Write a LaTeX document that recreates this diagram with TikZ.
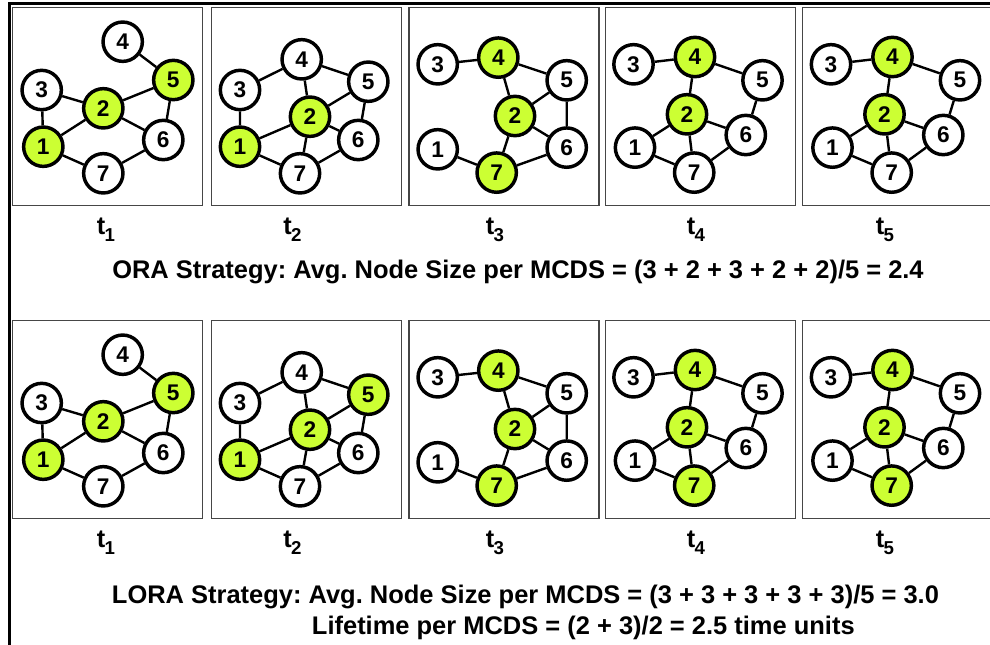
\documentclass[tikz,border=0pt]{standalone}
\usepackage{fontspec}
\setmainfont{Liberation Sans}
\frenchspacing
\definecolor{lgreen}{RGB}{204,255,51}
\definecolor{framegray}{RGB}{70,70,70}
\makeatletter
\newcommand\gnode[4]{% prefix, green list, coordinate, number
  \in@{,#4,}{#2}%
  \ifin@\def\nodefc{lgreen}\else\def\nodefc{white}\fi
  \node[gnd,fill=\nodefc] (#1-#4) at (#3) {#4};}
\makeatother
\newcommand\layoutA[2]{%
  \gnode{#1}{#2}{31.3,139.7}{1}\gnode{#1}{#2}{91.3,101.3}{2}%
  \gnode{#1}{#2}{29.7,83}{3}\gnode{#1}{#2}{110.7,34.7}{4}%
  \gnode{#1}{#2}{161.3,73}{5}\gnode{#1}{#2}{151.3,133}{6}%
  \gnode{#1}{#2}{91.3,166.3}{7}%
  \draw[edge] (#1-4)--(#1-5) (#1-3)--(#1-2) (#1-3)--(#1-1) (#1-2)--(#1-5)
    (#1-2)--(#1-1) (#1-2)--(#1-6) (#1-5)--(#1-6) (#1-1)--(#1-7) (#1-7)--(#1-6);}
\newcommand\layoutB[2]{%
  \gnode{#1}{#2}{29.3,139.7}{1}\gnode{#1}{#2}{99.3,109.7}{2}%
  \gnode{#1}{#2}{29.3,83}{3}\gnode{#1}{#2}{91,52.3}{4}%
  \gnode{#1}{#2}{157.6,74.7}{5}\gnode{#1}{#2}{147.6,133}{6}%
  \gnode{#1}{#2}{89.3,166.3}{7}%
  \draw[edge] (#1-3)--(#1-4) (#1-4)--(#1-5) (#1-4)--(#1-2) (#1-2)--(#1-5)
    (#1-5)--(#1-6) (#1-2)--(#1-6) (#1-2)--(#1-1) (#1-2)--(#1-7)
    (#1-3)--(#1-1) (#1-1)--(#1-7) (#1-7)--(#1-6);}
\newcommand\layoutC[2]{%
  \gnode{#1}{#2}{29.4,142.3}{1}\gnode{#1}{#2}{106.7,109}{2}%
  \gnode{#1}{#2}{29.4,57.3}{3}\gnode{#1}{#2}{90,50.6}{4}%
  \gnode{#1}{#2}{158.4,73.3}{5}\gnode{#1}{#2}{158.4,140.6}{6}%
  \gnode{#1}{#2}{88.4,165.6}{7}%
  \draw[edge] (#1-3)--(#1-4) (#1-4)--(#1-5) (#1-4)--(#1-2) (#1-2)--(#1-5)
    (#1-5)--(#1-6) (#1-2)--(#1-6) (#1-2)--(#1-7) (#1-1)--(#1-7) (#1-7)--(#1-6);}
\newcommand\layoutD[2]{%
  \gnode{#1}{#2}{30.5,140.6}{1}\gnode{#1}{#2}{82.5,107.3}{2}%
  \gnode{#1}{#2}{29,57.3}{3}\gnode{#1}{#2}{90.5,50}{4}%
  \gnode{#1}{#2}{158,73.3}{5}\gnode{#1}{#2}{141.3,128}{6}%
  \gnode{#1}{#2}{89.7,165.6}{7}%
  \draw[edge] (#1-3)--(#1-4) (#1-4)--(#1-5) (#1-4)--(#1-2) (#1-2)--(#1-6)
    (#1-2)--(#1-1) (#1-2)--(#1-7) (#1-5)--(#1-6) (#1-1)--(#1-7) (#1-7)--(#1-6);}
\newcommand\mkpanel[5]{% prefix, x0, y0, layout, greens
  \node[panelbox] (#1) at (#2,#3) {};
  \begin{scope}[shift={(#2,#3)}]
    \csname layout#4\endcsname{#1}{#5}
  \end{scope}}
\newcommand\tsub[1]{\kern-0.5pt\raisebox{-5.5pt}{\fontsize{14pt}{14pt}\selectfont\bfseries #1}}
\begin{document}
\begin{tikzpicture}[x=0.75pt,y=-0.75pt,
  gnd/.style={circle,draw=black,line width=2.6pt,minimum size=29.5pt,inner sep=0pt,
    font=\fontsize{17pt}{17pt}\selectfont\bfseries},
  edge/.style={draw=black,line width=1.8pt},
  panelbox/.style={draw=framegray,line width=1.1pt,anchor=north west,inner sep=0pt,
    minimum width=142.5pt,minimum height=148.5pt},
  tlab/.style={anchor=base west,inner sep=0pt,font=\fontsize{19pt}{20pt}\selectfont\bfseries},
  caption/.style={inner sep=0pt,font=\fontsize{19.1pt}{22pt}\selectfont\bfseries}]
\useasboundingbox (0,0) rectangle (990,644);
\clip (0,0) rectangle (990,644);
\draw[line width=2.25pt,black] (9.5,700) -- (9.5,3.5) -- (1050,3.5);
% top row
\mkpanel{A1}{12}{7}{A}{,1,2,5,}
\mkpanel{A2}{210.7}{7}{B}{,1,2,}
\mkpanel{A3}{408.3}{7}{C}{,4,2,7,}
\mkpanel{A4}{604.5}{7}{D}{,4,2,}
\mkpanel{A5}{802}{7}{D}{,4,2,}
\node[tlab] (A1t) at (96.7,234.3) {t\tsub{1}};
\node[tlab] (A2t) at (283,234.3) {t\tsub{2}};
\node[tlab] (A3t) at (485.5,234.3) {t\tsub{3}};
\node[tlab] (A4t) at (686.7,234.3) {t\tsub{4}};
\node[tlab] (A5t) at (875.5,234.3) {t\tsub{5}};
\node[caption,anchor=base west] (ora) at (112,278)
  {ORA Strategy: Avg. Node Size per MCDS = (3 + 2 + 3 + 2 + 2)/5 = 2.4};
% bottom row
\mkpanel{B1}{12}{320}{A}{,1,2,5,}
\mkpanel{B2}{210.7}{320}{B}{,1,2,5,}
\mkpanel{B3}{408.3}{320}{C}{,4,2,7,}
\mkpanel{B4}{604.5}{320}{D}{,4,2,7,}
\mkpanel{B5}{802}{320}{D}{,4,2,7,}
\node[tlab] (B1t) at (96.7,547.3) {t\tsub{1}};
\node[tlab] (B2t) at (283,547.3) {t\tsub{2}};
\node[tlab] (B3t) at (485.5,547.3) {t\tsub{3}};
\node[tlab] (B4t) at (686.7,547.3) {t\tsub{4}};
\node[tlab] (B5t) at (875.5,547.3) {t\tsub{5}};
\node[caption,anchor=base west] (lora) at (111.7,603)
  {LORA Strategy: Avg. Node Size per MCDS = (3 + 3 + 3 + 3 + 3)/5 = 3.0};
\node[caption,anchor=base east] (life) at (855,634)
  {Lifetime per MCDS = (2 + 3)/2 = 2.5 time units};
\end{tikzpicture}
\end{document}
